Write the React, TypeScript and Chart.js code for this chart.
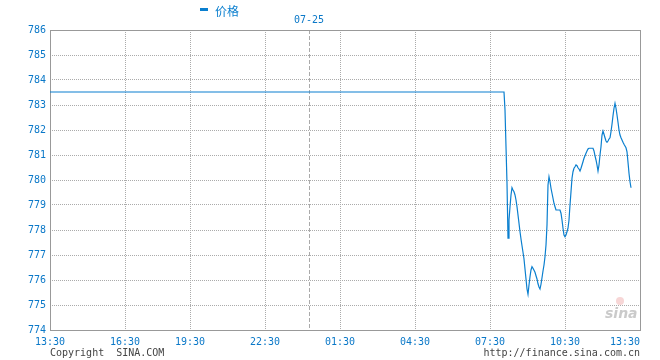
import React, { useEffect, useRef } from "react";
import { Chart, registerables } from "chart.js";

Chart.register(...registerables);

// ---- data ----
const seriesName = "价格";
const xTickLabels = ["13:30", "16:30", "19:30", "22:30", "01:30", "04:30", "07:30", "10:30", "13:30"];
const xTickSlots = [0, 75, 140, 215, 290, 365, 440, 515, 590];
const dateLabel = "07-25";
const dateSlot = 259;
const yTicks = [774, 775, 776, 777, 778, 779, 780, 781, 782, 783, 784, 785, 786];
const prevPrice = 783.52;
const sessionStartSlot = 454;
const prices = [
  783.52, 782.8, 781.33, 779.87, 777.67, 778.4, 778.93, 779.4, 779.69, 779.6,
  779.53, 779.4, 779.2, 778.93, 778.6, 778.27, 777.93, 777.64, 777.37, 777.11,
  776.84, 776.44, 776.04, 775.64, 775.43, 775.8, 776.13, 776.4, 776.53, 776.47,
  776.39, 776.31, 776.17, 776.04, 775.85, 775.72, 775.64, 775.83, 776.09, 776.36,
  776.6, 776.93, 777.4, 778.2, 779.8, 780.13, 779.93, 779.67, 779.47, 779.27,
  779.07, 778.93, 778.8, 778.8, 778.8, 778.8, 778.8, 778.67, 778.4, 778.07,
  777.8, 777.73, 777.8, 777.93, 778.07, 778.4, 779.0, 779.53, 780.07, 780.33,
  780.47, 780.53, 780.6, 780.57, 780.49, 780.44, 780.36, 780.47, 780.6, 780.73,
  780.87, 780.97, 781.07, 781.16, 781.24, 781.27, 781.27, 781.27, 781.27, 781.27,
  781.16, 780.97, 780.8, 780.6, 780.36, 780.6, 781.0, 781.33, 781.8, 781.96,
  781.83, 781.69, 781.56, 781.51, 781.56, 781.64, 781.69, 781.93, 782.23, 782.57,
  782.87, 783.07, 782.87, 782.6, 782.31, 782.0, 781.8, 781.69, 781.6, 781.51,
  781.43, 781.36, 781.29, 781.13, 780.71, 780.27, 779.93, 779.69,
];
const copyrightText = "Copyright  SINA.COM";
const urlText = "http://finance.sina.com.cn";
const watermarkText = "sina";

// ---- style ----
const BLUE = "#0a7fcf";
const TEXT_BLUE = "#0a78c8";
const GRID = "#ababab";
const FRAME = "#999999";
const MONO = "'DejaVu Sans Mono', monospace";

const overlayPlugin = {
  id: "sinaOverlay",
  beforeDatasetsDraw(chart: any) {
    const { ctx, chartArea, scales } = chart;
    const xs = scales.x;
    ctx.save();
    // date separator dashed line
    const dx = Math.round(xs.getPixelForValue(dateSlot)) + 0.5;
    ctx.strokeStyle = "#aaaaaa";
    ctx.lineWidth = 1;
    ctx.setLineDash([4, 2]);
    ctx.beginPath();
    ctx.moveTo(dx, chartArea.top);
    ctx.lineTo(dx, chartArea.bottom);
    ctx.stroke();
    ctx.setLineDash([]);
    // frame
    ctx.strokeStyle = FRAME;
    ctx.strokeRect(
      Math.round(chartArea.left) + 0.5,
      Math.round(chartArea.top) + 0.5,
      Math.round(chartArea.right - chartArea.left),
      Math.round(chartArea.bottom - chartArea.top)
    );
    ctx.restore();
  },
  afterDraw(chart: any) {
    const { ctx, chartArea, scales } = chart;
    const xs = scales.x;
    ctx.save();
    // x tick labels
    ctx.font = `10px ${MONO}`;
    ctx.fillStyle = TEXT_BLUE;
    ctx.textBaseline = "middle";
    ctx.textAlign = "left";
    xTickSlots.forEach((s, i) => {
      const label = xTickLabels[i];
      const w = ctx.measureText(label).width;
      const px = xs.getPixelForValue(s);
      let left = px - w / 2;
      if (left + w > chartArea.right) left = chartArea.right - w;
      ctx.fillText(label, left, chartArea.bottom + 12);
    });
    // date label
    ctx.textAlign = "center";
    ctx.fillText(dateLabel, xs.getPixelForValue(dateSlot), chartArea.top - 10);
    // legend
    ctx.fillStyle = BLUE;
    ctx.fillRect(200, 8, 8, 3);
    ctx.font = "12px 'Noto Sans CJK SC', sans-serif";
    ctx.textAlign = "left";
    ctx.fillText(seriesName, 215, 11);
    // footer
    ctx.font = `10px ${MONO}`;
    ctx.fillStyle = "#444444";
    ctx.textAlign = "left";
    ctx.fillText(copyrightText, 50, 353);
    ctx.textAlign = "right";
    ctx.fillText(urlText, chartArea.right, 353);
    // watermark
    ctx.fillStyle = "rgba(230,120,120,0.3)";
    ctx.beginPath();
    ctx.arc(620, 301, 4, 0, Math.PI * 2);
    ctx.fill();
    ctx.fillStyle = "rgba(150,150,150,0.5)";
    ctx.font = "italic bold 14px 'DejaVu Sans', sans-serif";
    ctx.textAlign = "left";
    ctx.textBaseline = "alphabetic";
    ctx.fillText(watermarkText, 605, 318);
    ctx.restore();
  },
};

export default function App() {
  const ref = useRef<HTMLCanvasElement | null>(null);
  useEffect(() => {
    if (!ref.current) return;
    const points = [
      { x: 0, y: prevPrice },
      ...prices.map((p, i) => ({ x: sessionStartSlot + i, y: p })),
    ];
    const lastX = xTickSlots.length - 1;
    const chart = new Chart(ref.current, {
      type: "line",
      data: {
        datasets: [
          {
            label: seriesName,
            data: points,
            borderColor: BLUE,
            borderWidth: 1.2,
            pointRadius: 0,
            fill: false,
            tension: 0,
          },
        ],
      },
      options: {
        animation: false,
        responsive: false,
        maintainAspectRatio: false,
        layout: { padding: { top: 30, right: 20, left: 0, bottom: 0 } },
        plugins: { legend: { display: false }, tooltip: { enabled: false } },
        scales: {
          x: {
            type: "linear",
            min: xTickSlots[0],
            max: xTickSlots[lastX],
            afterBuildTicks: (scale: any) => {
              scale.ticks = xTickSlots.map((v) => ({ value: v }));
            },
            afterFit: (scale: any) => {
              scale.height = 30;
            },
            ticks: { display: false },
            grid: {
              drawTicks: false,
              color: (c: any) => (c.index === 0 || c.index === lastX ? "rgba(0,0,0,0)" : GRID),
              lineWidth: 1,
            },
            border: { display: false, dash: [1, 1] },
          },
          y: {
            type: "linear",
            min: yTicks[0],
            max: yTicks[yTicks.length - 1],
            afterBuildTicks: (scale: any) => {
              scale.ticks = yTicks.map((v) => ({ value: v }));
            },
            afterFit: (scale: any) => {
              scale.width = 50;
            },
            ticks: {
              color: TEXT_BLUE,
              font: { family: MONO, size: 10 },
              padding: 4,
              callback: (v: any) => String(v),
            },
            grid: {
              drawTicks: false,
              color: (c: any) =>
                c.index === 0 || c.index === yTicks.length - 1 ? "rgba(0,0,0,0)" : GRID,
              lineWidth: 1,
            },
            border: { display: false, dash: [1, 1] },
          },
        },
      },
      plugins: [overlayPlugin],
    });
    return () => chart.destroy();
  }, []);
  return (
    <div style={{ position: "fixed", left: 0, top: 0, width: 660, height: 360, background: "#fff" }}>
      <canvas ref={ref} width={660} height={360} style={{ width: 660, height: 360 }} />
    </div>
  );
}
